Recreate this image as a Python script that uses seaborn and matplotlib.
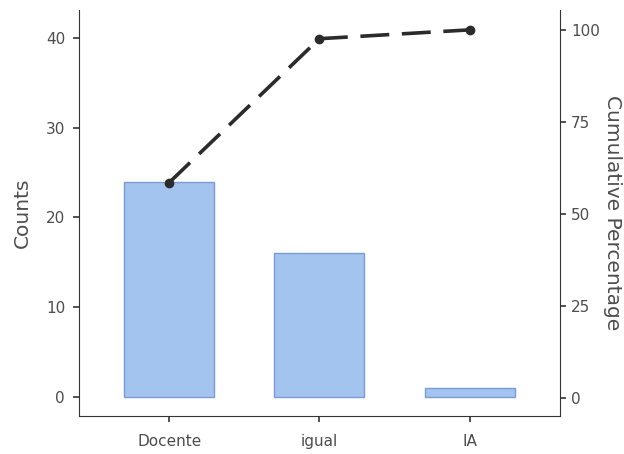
import matplotlib
matplotlib.use("Agg")
import matplotlib.pyplot as plt
import seaborn as sns
import numpy as np
import pandas as pd

categories = ["Docente", "igual", "IA"]
counts = [24, 16, 1]
cum_pct = [58.5, 97.6, 100.0]

sns.set_style("white")
plt.rcParams['font.family'] = ['DejaVu Sans']

df = pd.DataFrame({"cat": categories, "count": counts, "cum": cum_pct})

fig = plt.figure(figsize=(6.24, 4.54), dpi=100)
ax = fig.add_axes([0.1266, 0.0837, 0.897 - 0.1266, 0.978 - 0.0837])
sns.barplot(data=df, x="cat", y="count", ax=ax, color="#A4C4F0", width=0.6,
            edgecolor="#7A9BD8", linewidth=1, saturation=1)
ax.set_xlim(-0.6, 2.6)
ax.set_ylim(-2.1, 43.1)
ax.set_yticks([0, 10, 20, 30, 40])
ax.set_xlabel("")
ax.set_ylabel("Counts", fontsize=14.5, color="#4d4d4d", labelpad=10)

ax2 = ax.twinx()
sns.lineplot(data=df, x="cat", y="cum", ax=ax2, color="#2b2b2b", linewidth=2.6,
             linestyle=(0, (8, 3.5)), marker="o", markersize=7, markeredgewidth=0)
ax2.set_ylim(-4.9, 105.4)
ax2.set_yticks([0, 25, 50, 75, 100])
ax2.set_ylabel("Cumulative Percentage", fontsize=14.5, color="#4d4d4d", rotation=270, labelpad=16)
ax2.set_xlabel("")

ax.spines["top"].set_visible(False)
ax.spines["right"].set_visible(False)
ax2.spines["top"].set_visible(False)
ax2.spines["left"].set_visible(False)
ax2.spines["bottom"].set_visible(False)
ax.tick_params(axis="both", length=4, width=1.2, color="#333333",
               labelsize=11, labelcolor="#4d4d4d", bottom=True, left=True, right=False)
ax.tick_params(axis="x", pad=9)
ax.tick_params(axis="y", pad=6)
ax2.tick_params(axis="y", length=4, width=1.2, color="#333333",
                labelsize=11, labelcolor="#4d4d4d", left=False, right=True,
                labelleft=False, labelright=True, pad=4)
for s in ["left", "bottom"]:
    ax.spines[s].set_color("#333333")
ax2.spines["right"].set_color("#333333")

fig.savefig("out.png", dpi=100)
